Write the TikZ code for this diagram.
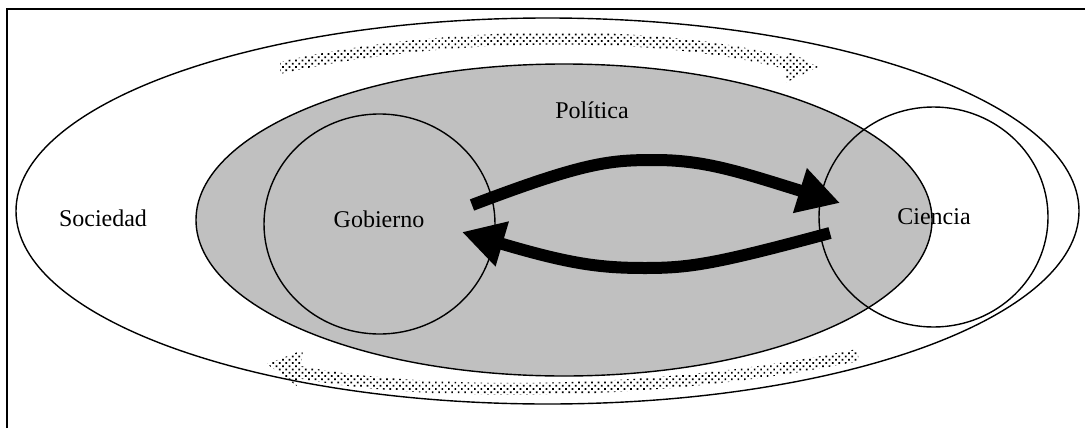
\documentclass[tikz,border=0pt]{standalone}
\usepackage{fontspec}
\setmainfont{Liberation Serif}
\usetikzlibrary{shapes.geometric,arrows.meta,patterns.meta}
\definecolor{polgray}{RGB}{192,192,192}
\begin{document}
\begin{tikzpicture}[x=0.5pt,y=-0.5pt,
  region/.style={ellipse, draw, line width=0.7pt, inner sep=0pt},
  txt/.style={font=\fontsize{12}{14}\selectfont, inner sep=0pt, anchor=base},
  flow/.style={line width=6pt, -{Triangle[length=21pt,width=22pt]}},
  drift/.style={pattern={Dots[distance=2.3pt,radius=0.6pt,angle=45]}}]
  \useasboundingbox (0,0) rectangle (1085,428);
  \fill[white] (0,0) rectangle (1085,428);
  % frame edges
  \draw[line width=1pt] (7,428) -- (7,9) -- (1085,9);

  % nested regions
  \node[region, minimum width=531.5pt, minimum height=193pt] (soc) at (547.5,211) {};
  \node[region, fill=polgray, minimum width=368pt, minimum height=156pt] (pol) at (564,220) {};
  \node[region, minimum width=115.5pt, minimum height=110pt] (gob) at (379.5,224) {};
  \node[region, minimum width=114.5pt, minimum height=110pt] (cie) at (933.5,217) {};

  % dotted circulation arrows
  \fill[drift] (280,62) .. controls (420,29) and (640,19) .. (787,57)
    -- (790,52) -- (818,67) -- (785,83) -- (785,69)
    .. controls (640,31) and (420,41) .. (280,74) -- cycle;
  \fill[drift] (267,364) -- (303,350) -- (301,366)
    .. controls (420,390) and (650,392) .. (857,349) -- (859,361)
    .. controls (650,404) and (420,402) .. (297,378) -- (297,386) -- cycle;

  % labels
  \node[txt] (tsoc) at (103,226) {Sociedad};
  \node[txt] (tpol) at (592,118) {Política};
  \node[txt] (tgob) at (379,227) {Gobierno};
  \node[txt] (tcie) at (934,224) {Ciencia};

  % exchange between government and science
  \coordinate (g1) at (472,205);
  \coordinate (c1) at (840,203);
  \coordinate (c2) at (830,233);
  \coordinate (g2) at (462,232);
  \draw[flow] (g1) .. controls (585,162) and (610,160) .. (655,160)
    .. controls (705,160) and (740,172) .. (c1);
  \draw[flow] (c2) .. controls (715,264) and (690,268) .. (645,268)
    .. controls (600,268) and (570,264) .. (g2);
\end{tikzpicture}
\end{document}
